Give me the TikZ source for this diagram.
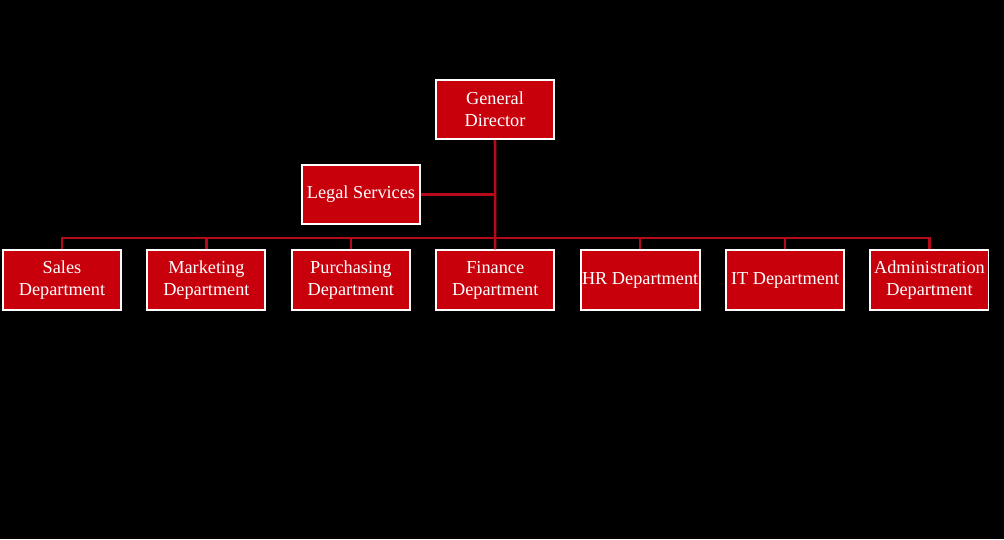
\documentclass[tikz,border=0pt]{standalone}
\usepackage{fontspec}
\setmainfont{Liberation Serif}
\usetikzlibrary{positioning}
\definecolor{boxred}{RGB}{200,0,12}
\definecolor{linered}{RGB}{180,10,25}

\begin{document}
\begin{tikzpicture}[x=0.025cm, y=-0.025cm, node distance = 0.61cm,
    unit/.style={draw=white, line width=1.4pt, fill=boxred, text=white, minimum width=2.95cm, minimum height=1.48cm, inner sep=1pt, align=center, font=\fontsize{13}{15.6}\selectfont},
    link/.style={linered, line width=1.8pt}]
      \fill[black] (0,0) rectangle (1004,539);
      \useasboundingbox (0,0) rectangle (1004,539);

      \node[unit] (gd) at (495,109.5) {General\\Director};
      \node[unit] (legal) at (361,194.5) {Legal Services};
      \node[unit] (sales) at (62,280) {Sales\\Department};
      \node[unit] (mkt) [right=of sales] {Marketing\\Department};
      \node[unit] (pur) [right=of mkt] {Purchasing\\Department};
      \node[unit] (fin) [right=of pur] {Finance\\Department};
      \node[unit] (hr) [right=of fin] {HR Department};
      \node[unit] (it) [right=of hr] {IT Department};
      \node[unit] (adm) [right=of it] {Administration\\Department};

      \coordinate (bus) at (0,238);
      \draw[link] (gd.south) -- (fin.north);
      \draw[link] (legal.east) -- (legal.east -| gd.south);
      \draw[link] (sales.north) |- (bus -| adm.north) -- (adm.north);
      \foreach \d in {mkt, pur, hr, it}
        \draw[link] (\d.north) -- (\d.north |- bus);
\end{tikzpicture}
\end{document}
